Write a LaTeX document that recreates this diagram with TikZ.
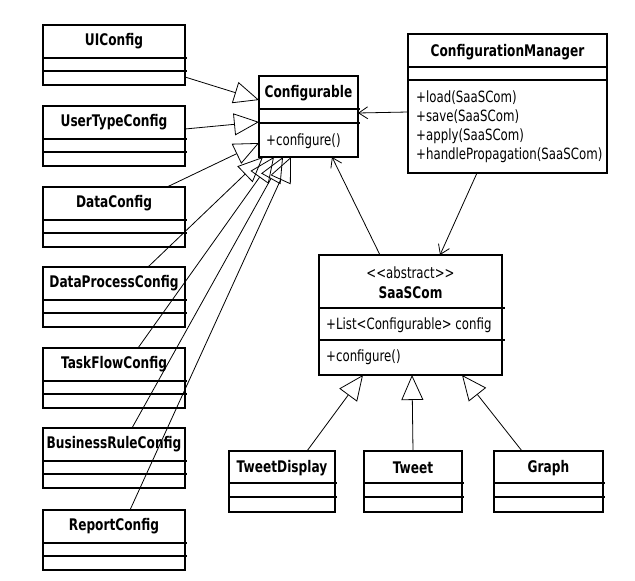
\documentclass[tikz,border=0pt]{standalone}
\usepackage{fontspec}
\setmainfont{DejaVu Sans}[FakeStretch=0.76]
\usepackage{tikz}
\usetikzlibrary{arrows.meta,positioning,calc}

\tikzset{
  umlbox/.style={draw, line width=1.5pt, inner sep=0pt, outer sep=0pt, anchor=north west},
  divider/.style={line width=1.5pt},
  classname/.style={font=\fontsize{16}{18}\selectfont\bfseries, inner sep=0pt},
  member/.style={font=\fontsize{15.5}{19}\selectfont, inner sep=0pt, align=left},
  inherit/.style={-{Triangle[open,length=25pt,width=22pt]}, line width=0.8pt},
  assoc/.style={-{Straight Barb[length=9pt,width=12pt]}, line width=0.8pt}
}

\begin{document}
\begin{tikzpicture}[x=1pt,y=-1pt]
  \useasboundingbox (0,0) rectangle (635,581);

  % configuration classes on the left
  \foreach \n/\t/\y in {ui/UIConfig/25, usertype/UserTypeConfig/106,
      data/DataConfig/187, dataproc/DataProcessConfig/267,
      taskflow/TaskFlowConfig/348, bizrule/BusinessRuleConfig/428,
      report/ReportConfig/510}
  {
    \node[umlbox, minimum width=142pt, minimum height=60pt] (\n) at (43,\y) {};
    \node[classname] (\n-name) at ([yshift=-16.5pt]\n.north) {\t};
    \draw[divider] ([yshift=-33pt]\n.north west) -- ([xshift=2pt,yshift=-33pt]\n.north east);
    \draw[divider] ([yshift=-46pt]\n.north west) -- ([xshift=2pt,yshift=-46pt]\n.north east);
  }
  \draw[line width=2.4pt] (usertype.north west) rectangle (usertype.south east);

  % Configurable
  \node[umlbox, minimum width=99pt, minimum height=81pt] (configurable) at (259,76) {};
  \node[classname] (configurable-name) at ([yshift=-17pt]configurable.north) {Configurable};
  \draw[divider] ([yshift=-33pt]configurable.north west) -- ([xshift=2pt,yshift=-33pt]configurable.north east);
  \draw[divider] ([yshift=-47pt]configurable.north west) -- ([xshift=2pt,yshift=-47pt]configurable.north east);
  \node[member, anchor=west] (configurable-ops) at (266,141) {+configure()};

  % ConfigurationManager
  \node[umlbox, minimum width=199pt, minimum height=139pt] (manager) at (408,34) {};
  \node[classname] (manager-name) at ([yshift=-18pt]manager.north) {ConfigurationManager};
  \draw[divider] ([yshift=-33pt]manager.north west) -- ([yshift=-33pt]manager.north east);
  \draw[divider] ([yshift=-46pt]manager.north west) -- ([yshift=-46pt]manager.north east);
  \node[member, anchor=west] (manager-ops) at (416,126.5)
    {+load(SaaSCom)\\+save(SaaSCom)\\+apply(SaaSCom)\\+handlePropagation(SaaSCom)};

  % SaaSCom
  \node[umlbox, minimum width=183pt, minimum height=120pt] (saascom) at (319,255) {};
  \node[member] (saascom-stereo) at ([yshift=-18pt]saascom.north) {<{}<abstract>{}>};
  \node[classname] (saascom-name) at ([yshift=-38pt]saascom.north) {SaaSCom};
  \draw[divider] ([yshift=-53pt]saascom.north west) -- ([xshift=3pt,yshift=-53pt]saascom.north east);
  \draw[divider] ([yshift=-85pt]saascom.north west) -- ([xshift=3pt,yshift=-85pt]saascom.north east);
  \node[member, anchor=west] (saascom-attr) at (326,325) {+List<Configurable> config};
  \node[member, anchor=west] (saascom-ops) at (326,357) {+configure()};

  % concrete components
  \foreach \n/\t/\x/\w in {tweetdisplay/TweetDisplay/229/106, tweet/Tweet/364/98,
      graph/Graph/494/109}
  {
    \node[umlbox, minimum width=\w pt, minimum height=61pt] (\n) at (\x,451) {};
    \node[classname] (\n-name) at ([yshift=-17pt]\n.north) {\t};
    \draw[divider] ([yshift=-32pt]\n.north west) -- ([xshift=2pt,yshift=-32pt]\n.north east);
    \draw[divider] ([yshift=-46pt]\n.north west) -- ([xshift=2pt,yshift=-46pt]\n.north east);
  }

  % generalisations to Configurable
  \draw[inherit] ([yshift=-52pt]ui.north east) -- ([yshift=-24pt]configurable.north west);
  \draw[inherit] ([yshift=-23pt]usertype.north east) -- ([yshift=-46pt]configurable.north west);
  \draw[inherit] ([xshift=124pt]data.north west) -- ([yshift=14pt]configurable.south west);
  \foreach \n/\a/\b in {dataproc/105/4, taskflow/95/15, bizrule/89/24, report/87/32}
    \draw[inherit] ([xshift=\a pt]\n.north west) -- ([xshift=\b pt]configurable.south west);

  % generalisations to SaaSCom
  \draw[inherit] ([xshift=78pt]tweetdisplay.north west) -- ([xshift=44pt]saascom.south west);
  \draw[inherit] ([xshift=49pt]tweet.north west) -- ([xshift=93pt]saascom.south west);
  \draw[inherit] ([xshift=28pt]graph.north west) -- ([xshift=143pt]saascom.south west);

  % associations
  \draw[assoc] ([yshift=-78pt]manager.north west) -- ([yshift=-37pt]configurable.north east);
  \draw[assoc] ([xshift=61pt]saascom.north west) -- ([xshift=73pt]configurable.south west);
  \draw[assoc] ([xshift=69pt]manager.south west) -- ([xshift=121pt]saascom.north west);
\end{tikzpicture}
\end{document}
